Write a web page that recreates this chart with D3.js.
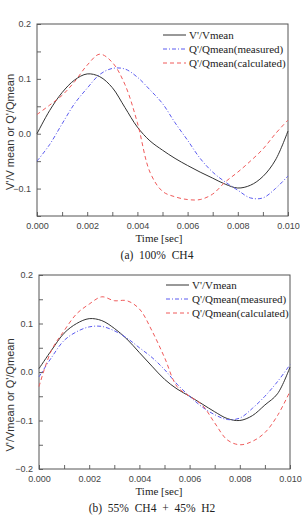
<!DOCTYPE html>
<html>
<head>
<meta charset="utf-8">
<script src="https://cdn.jsdelivr.net/npm/d3@7"></script>
<style>
  body { margin: 0; background: #fff; }
  svg { display: block; }
</style>
</head>
<body>
<div id="chart"></div>
<script>
// time axis, in seconds
const time = d3.range(0, 21).map(i => i * 0.0005);

// (a) 100% CH4
const vA    = [0.0, 0.042, 0.075, 0.098, 0.109, 0.104, 0.084, 0.048, 0.012, -0.013, -0.03, -0.045, -0.058, -0.07, -0.081, -0.092, -0.099, -0.094, -0.078, -0.048, 0.005];
const qMeasA = [-0.05, -0.02, 0.018, 0.055, 0.083, 0.108, 0.119, 0.118, 0.103, 0.08, 0.055, 0.02, -0.012, -0.045, -0.07, -0.088, -0.103, -0.117, -0.117, -0.1, -0.077];
const qCalcA = [0.035, 0.052, 0.07, 0.095, 0.125, 0.145, 0.13, 0.09, 0.02, -0.07, -0.105, -0.115, -0.12, -0.12, -0.11, -0.088, -0.07, -0.05, -0.028, 0.0, 0.025];

// (b) 55% CH4 + 45% H2
const vB    = [0.007, 0.045, 0.08, 0.1, 0.11, 0.106, 0.09, 0.068, 0.04, 0.012, -0.015, -0.035, -0.05, -0.066, -0.082, -0.096, -0.1, -0.09, -0.068, -0.045, 0.01];
const qMeasB = [-0.01, 0.03, 0.065, 0.083, 0.093, 0.094, 0.085, 0.07, 0.05, 0.03, 0.005, -0.025, -0.05, -0.072, -0.088, -0.098, -0.095, -0.075, -0.05, -0.02, 0.015];
const qCalcB = [-0.03, 0.045, 0.085, 0.12, 0.14, 0.155, 0.147, 0.147, 0.13, 0.085, 0.03, -0.03, -0.05, -0.068, -0.105, -0.14, -0.15, -0.143, -0.125, -0.09, -0.04];

const legendLabels = ["V'/Vmean", "Q'/Qmean(measured)", "Q'/Qmean(calculated)"];

const styles = [
  {color: "#333", dash: null},
  {color: "#5b5bf0", dash: "4,2,1,2"},
  {color: "#f05a5a", dash: "4,3"}
];

const sans = "'Liberation Sans', Arial, sans-serif";
const serif = "'Liberation Serif', 'Times New Roman', serif";

const svg = d3.select("#chart").append("svg")
  .attr("width", 302)
  .attr("height", 519);

function panel(cfg) {
  const x = d3.scaleLinear().domain([0, 0.01]).range([cfg.left, cfg.right]);
  const y = d3.scaleLinear().domain(cfg.yDomain).range([cfg.bottom, cfg.top]);
  const g = svg.append("g");

  // x axis, inner ticks
  g.append("g")
    .attr("transform", `translate(0,${cfg.bottom})`)
    .call(d3.axisBottom(x).tickValues(d3.range(0, 11).map(i => i * 0.001))
      .tickSize(-4).tickPadding(7)
      .tickFormat(d => (Math.round(d * 1000) % 2 === 0) ? d3.format(".3f")(d) : ""));

  const yt = d3.range(Math.round(cfg.yDomain[0] * 20), Math.round(cfg.yDomain[1] * 20) + 1).map(i => i / 20);
  g.append("g")
    .attr("transform", `translate(${cfg.left},0)`)
    .call(d3.axisLeft(y).tickValues(yt).tickSize(-4).tickPadding(6)
      .tickFormat(d => (Math.round(d * 20) % 2 === 0) ? d3.format(".1f")(d) : ""));

  g.selectAll(".domain").remove();
  g.selectAll(".tick line").attr("stroke", "#666");
  g.selectAll(".tick text")
    .attr("fill", "#444")
    .style("font-family", sans)
    .style("font-size", "9px");

  // frame
  g.append("rect")
    .attr("x", cfg.left).attr("y", cfg.top)
    .attr("width", cfg.right - cfg.left).attr("height", cfg.bottom - cfg.top)
    .attr("fill", "none").attr("stroke", "#555").attr("stroke-width", 1);

  const line = d3.line()
    .x((d, i) => x(time[i]))
    .y(d => y(d))
    .curve(d3.curveCatmullRom);

  cfg.series.forEach((s, k) => {
    g.append("path")
      .datum(s)
      .attr("d", line)
      .attr("fill", "none")
      .attr("stroke", styles[k].color)
      .attr("stroke-width", 1)
      .attr("stroke-dasharray", styles[k].dash);
  });

  // legend
  legendLabels.forEach((lab, k) => {
    const ly = cfg.legY + k * 14;
    g.append("line")
      .attr("x1", cfg.legX).attr("x2", cfg.legX + 23)
      .attr("y1", ly).attr("y2", ly)
      .attr("stroke", styles[k].color)
      .attr("stroke-width", 1)
      .attr("stroke-dasharray", styles[k].dash);
    g.append("text")
      .attr("x", cfg.legX + 26).attr("y", ly + 4)
      .style("font-family", serif)
      .style("font-size", "11px")
      .attr("fill", "#222")
      .text(lab);
  });

  // axis titles
  g.append("text")
    .attr("transform", `translate(${cfg.yLabelX},${cfg.yLabelY}) rotate(-90)`)
    .attr("text-anchor", "middle")
    .style("font-family", sans)
    .style("font-size", "11px")
    .attr("fill", "#333")
    .text(cfg.yLabel);

  g.append("text")
    .attr("x", 159).attr("y", cfg.bottom + 26)
    .attr("text-anchor", "middle")
    .style("font-family", serif)
    .style("font-size", "11px")
    .attr("fill", "#222")
    .text("Time [sec]");

  g.append("text")
    .attr("x", cfg.capX).attr("y", cfg.bottom + 43)
    .attr("text-anchor", "middle")
    .style("font-family", serif)
    .style("font-size", "11.5px")
    .style("white-space", "pre")
    .attr("fill", "#222")
    .text(cfg.caption);
}

panel({
  left: 37, right: 288, top: 24, bottom: 216,
  yDomain: [-0.15, 0.2],
  series: [vA, qMeasA, qCalcA],
  legX: 163, legY: 35,
  yLabel: "V'/V mean or Q'/Qmean", yLabelX: 14, yLabelY: 132,
  caption: "(a)  100%  CH4", capX: 157
});

panel({
  left: 39, right: 290, top: 275, bottom: 469,
  yDomain: [-0.2, 0.2],
  series: [vB, qMeasB, qCalcB],
  legX: 166, legY: 285,
  yLabel: "V'/Vmean or Q'/Qmean", yLabelX: 14, yLabelY: 395,
  caption: "(b)  55%  CH4  +  45%  H2", capX: 152
});
</script>
</body>
</html>
